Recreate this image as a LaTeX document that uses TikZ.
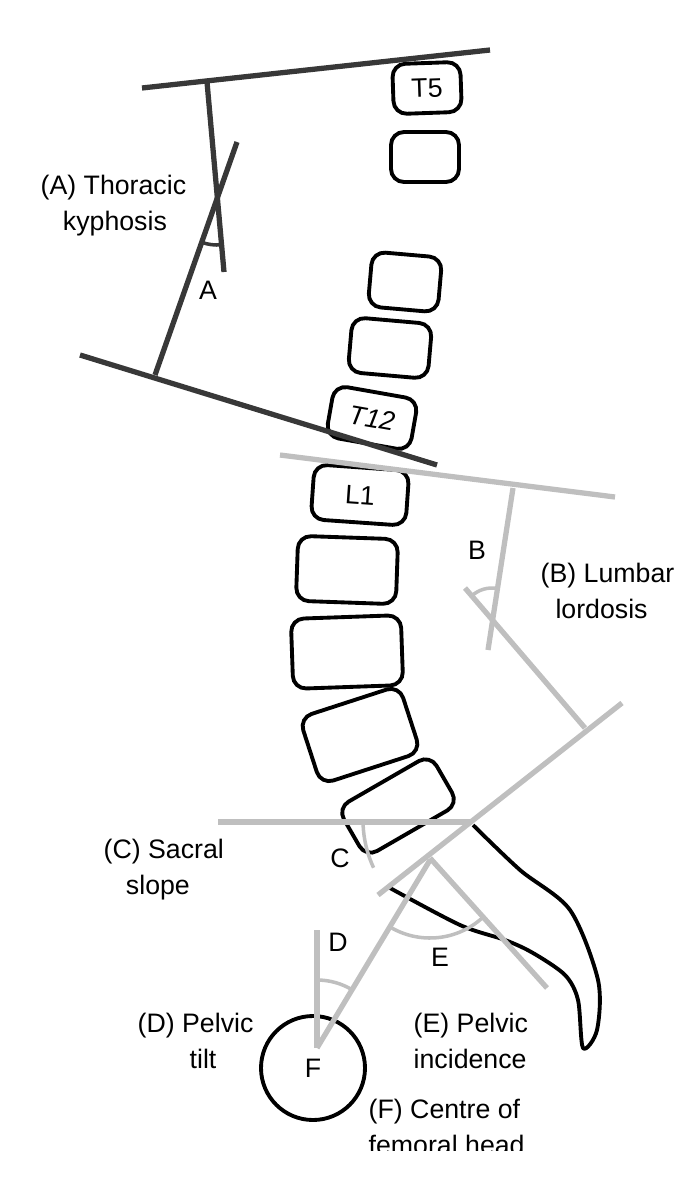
\documentclass[tikz,border=0pt]{standalone}
\usepackage{fontspec}
\setmainfont{Liberation Sans}
\begin{document}
\begin{tikzpicture}[x=0.1mm,y=-0.1mm]
\tikzset{vert/.style={draw,line width=1.1pt,rounded corners=1.3mm,minimum width=#1,font=\fontsize{7.6}{9}\selectfont},
  dark/.style={draw=black!78,line width=1.5pt},
  pale/.style={draw=black!25,line width=1.5pt},
  lbl/.style={font=\fontsize{7.6}{10.5}\selectfont,align=left,anchor=north west,inner sep=0pt}}
\useasboundingbox (0,0) rectangle (692,1200);

% vertebrae
\node[vert=6.8mm,minimum height=5mm,rotate=2] (t5) at (427,88) {T5};
\node[vert=6.8mm,minimum height=5mm] (t6) at (425,157) {};
\node[vert=7mm,minimum height=5.5mm,rotate=-5] (t10) at (405,282) {};
\node[vert=8mm,minimum height=5.5mm,rotate=-5] (t11) at (390,348) {};
\node[vert=8.5mm,minimum height=5.2mm,rotate=-10] (t12) at (372,418) {\itshape T12};
\node[vert=9.5mm,minimum height=5.5mm,rotate=-4] (l1) at (360,495) {L1};
\node[vert=10mm,minimum height=6.5mm,rotate=-2] (l2) at (347,570) {};
\node[vert=11mm,minimum height=7mm,rotate=2] (l3) at (347,652) {};
\node[vert=10.5mm,minimum height=7mm,rotate=18] (l4) at (360,735) {};
\node[vert=10.7mm,minimum height=5.7mm,rotate=30] (l5) at (398,806) {};

% sacrum
\draw[line width=1.1pt,line join=round] plot[smooth,tension=0.5] coordinates {(473,825) (520,870) (570,910)
  (598,980) (597,1030) (583,1048) (578,1000) (565,975) (533,953) (505,940) (460,925) (390,888)};

% femoral head
\node[circle,draw,line width=1.1pt,minimum size=10.4mm] (fh) at (313,1068) {};

% (A) thoracic kyphosis
\coordinate (a1) at (142,88);  \coordinate (a2) at (490,50);
\coordinate (a3) at (80,355);  \coordinate (a4) at (437,465);
\draw[dark] (a1) -- (a2);
\draw[dark] (a3) -- (a4);
\draw[dark] (207,82) -- (224,272);
\draw[dark] (155,375) -- (237,142);
\draw[dark,line width=1pt] (217,200) ++(84:45) arc[start angle=84,end angle=110,radius=45];
\node[lbl] (txtA) at (40,174) {(A) Thoracic\\\ \ \ kyphosis};
\node (A) at (208,290) {\fontsize{7.6}{9}\selectfont A};

% (B) lumbar lordosis
\draw[pale] (280,455) -- (615,497);
\draw[pale] (513,488) -- (488,650);
\draw[pale] (465,588) -- (585,728);
\draw[pale] (378,895) -- (622,703);
\draw[pale,line width=1pt] (492,618) ++(-132:30) arc[start angle=-132,end angle=-81,radius=30];
\node (B) at (477,550) {\fontsize{7.6}{9}\selectfont B};
\node[lbl] (txtB) at (540,562) {(B) Lumbar\\\ \ lordosis};

% (C) sacral slope, (E) pelvic incidence
\draw[pale] (218,822) -- (470,822);
\draw[pale,line width=1pt] (476,820) ++(180:113) arc[start angle=180,end angle=155,radius=113];
\draw[pale] (430,858) -- (547,988);
\draw[pale,line width=1pt] (430,860) ++(47.6:78) arc[start angle=47.6,end angle=121,radius=78];
\node (C) at (340,858) {\fontsize{7.6}{9}\selectfont C};
\node (E) at (440,957) {\fontsize{7.6}{9}\selectfont E};
\node[lbl] (txtC) at (103,838) {(C) Sacral\\\ \ \ slope};

% (D) pelvic tilt
\coordinate (f) at (317,1048);
\draw[pale] (f) -- (430,860);
\draw[pale] (f) -- (317,930);
\draw[pale,line width=1pt] (f) ++(-90:68) arc[start angle=-90,end angle=-59,radius=68];
\node (D) at (338,942) {\fontsize{7.6}{9}\selectfont D};
\node (F) at (313,1068) {\fontsize{7.6}{9}\selectfont F};
\node[lbl] (txtD) at (137,1012) {(D) Pelvic\\\ \ \ \ \ \ \ tilt};
\node[lbl] (txtE) at (413,1012) {(E) Pelvic\\incidence};
\begin{scope}
\clip (0,0) rectangle (692,1150);
\node[lbl] (txtF) at (368,1098) {(F) Centre of\\femoral head};
\end{scope}
\end{tikzpicture}
\end{document}
